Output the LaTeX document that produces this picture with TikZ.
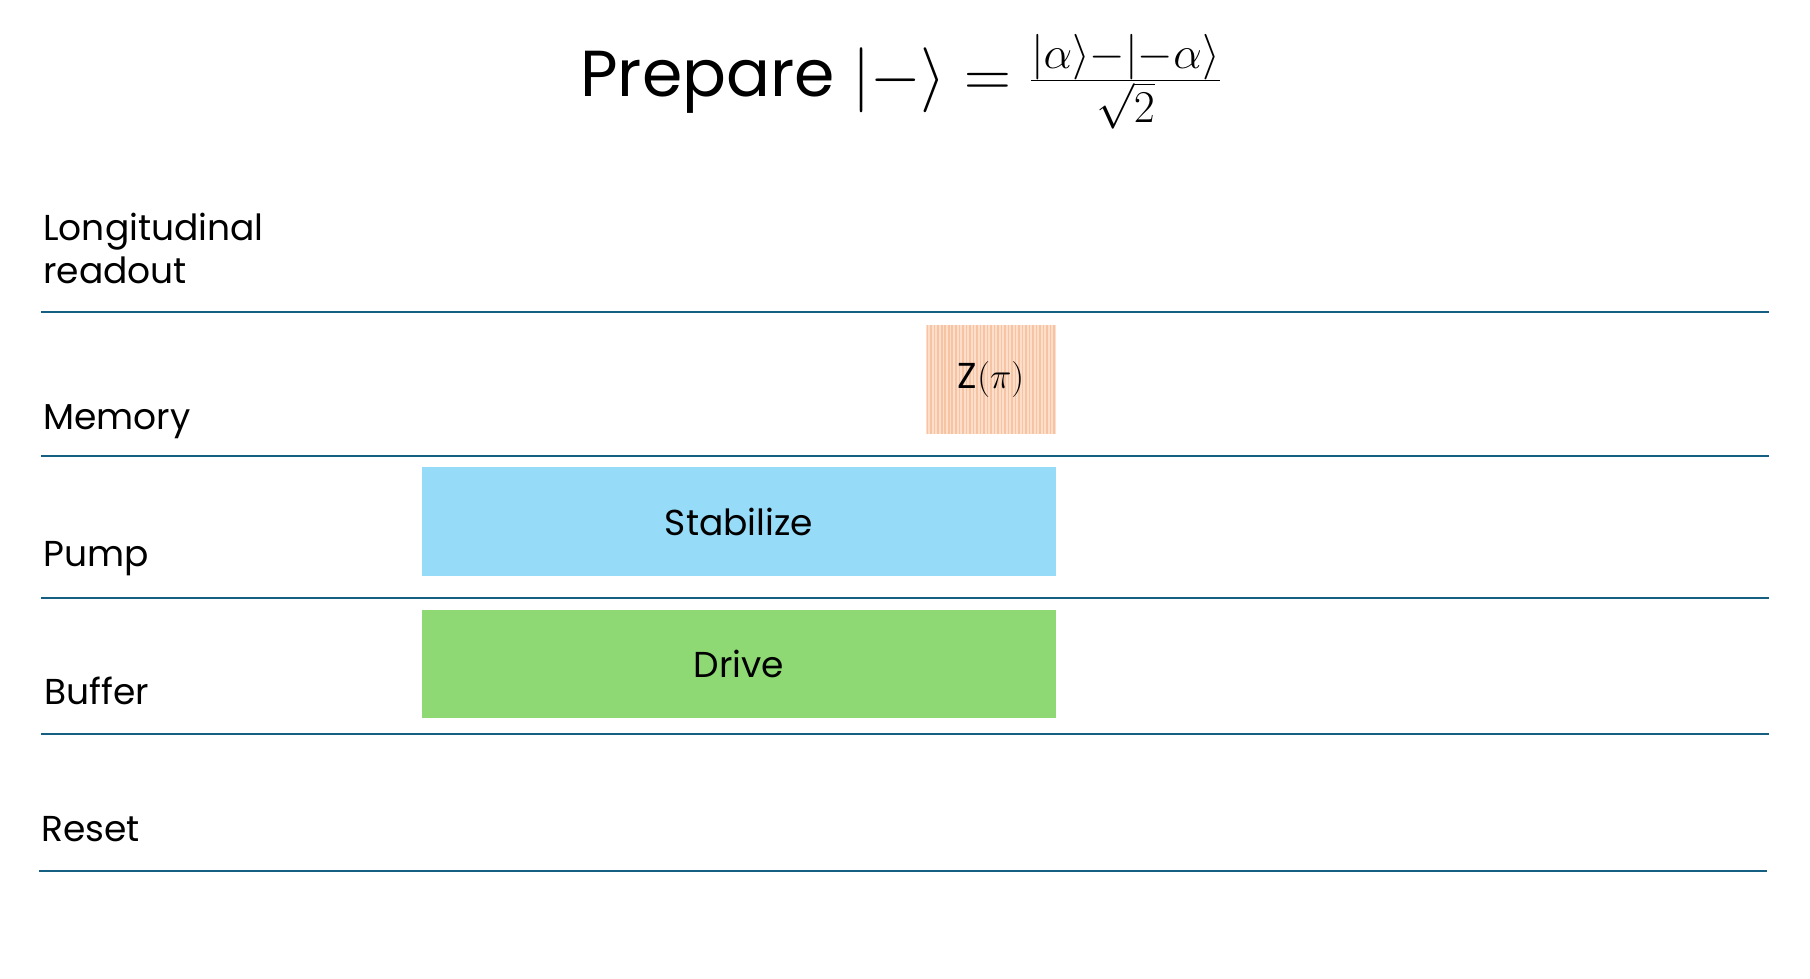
\RequirePackage{fix-cm}
\documentclass[tikz,border=0pt]{standalone}
\usepackage{fontspec}
\setmainfont{Poppins}
\usetikzlibrary{patterns.meta}
\definecolor{laneblue}{HTML}{156082}
\definecolor{stabblue}{HTML}{96DBF7}
\definecolor{drivegreen}{HTML}{8ED973}
\definecolor{peach}{HTML}{FCDECB}
\definecolor{peachdark}{HTML}{F6C3A3}

\begin{document}
\begin{tikzpicture}[x=0.02cm, y=-0.02cm,
  lane/.style={laneblue, line width=0.85pt},
  lbl/.style={anchor=base west, inner sep=0, font=\fontsize{20.5}{24.5}\selectfont, align=left},
  pulse/.style={inner sep=0, font=\fontsize{20.5}{24}\selectfont, minimum width=12.68cm}]
\useasboundingbox (0,0) rectangle (1810,979);
\node[anchor=base, inner sep=0, font=\fontsize{37}{44}\selectfont] (title) at (901,97)
  {Prepare $|{-}\rangle = \frac{|\alpha\rangle-|-\alpha\rangle}{\sqrt{2}}$};
% lanes
\foreach \y in {312, 456, 598, 734} {
 \draw[lane] (41,\y) -- (1769,\y);
}
\draw[lane] (39,871) -- (1767,871);
\node[lbl] (long) at (43,284) {Longitudinal\\readout};
\node[lbl] (mem)  at (43,430) {Memory};
\node[lbl] (pump) at (43,567) {Pump};
\node[lbl] (buf)  at (44,705) {Buffer};
\node[lbl] (rst)  at (41,842) {Reset};
% pulses
\node[pulse, fill=stabblue, minimum height=2.18cm] (stab) at (739,521.5) {Stabilize};
\node[pulse, fill=drivegreen, minimum height=2.16cm] (drive) at (739,664) {Drive};
\node[pulse, minimum width=2.6cm, minimum height=2.18cm, preaction={fill=peach},
  pattern={Lines[angle=90, distance=2pt, line width=0.9pt]}, pattern color=peachdark] (zpi) at (991,379.5) {$\mathrm{Z}(\pi)$};
\end{tikzpicture}
\end{document}
